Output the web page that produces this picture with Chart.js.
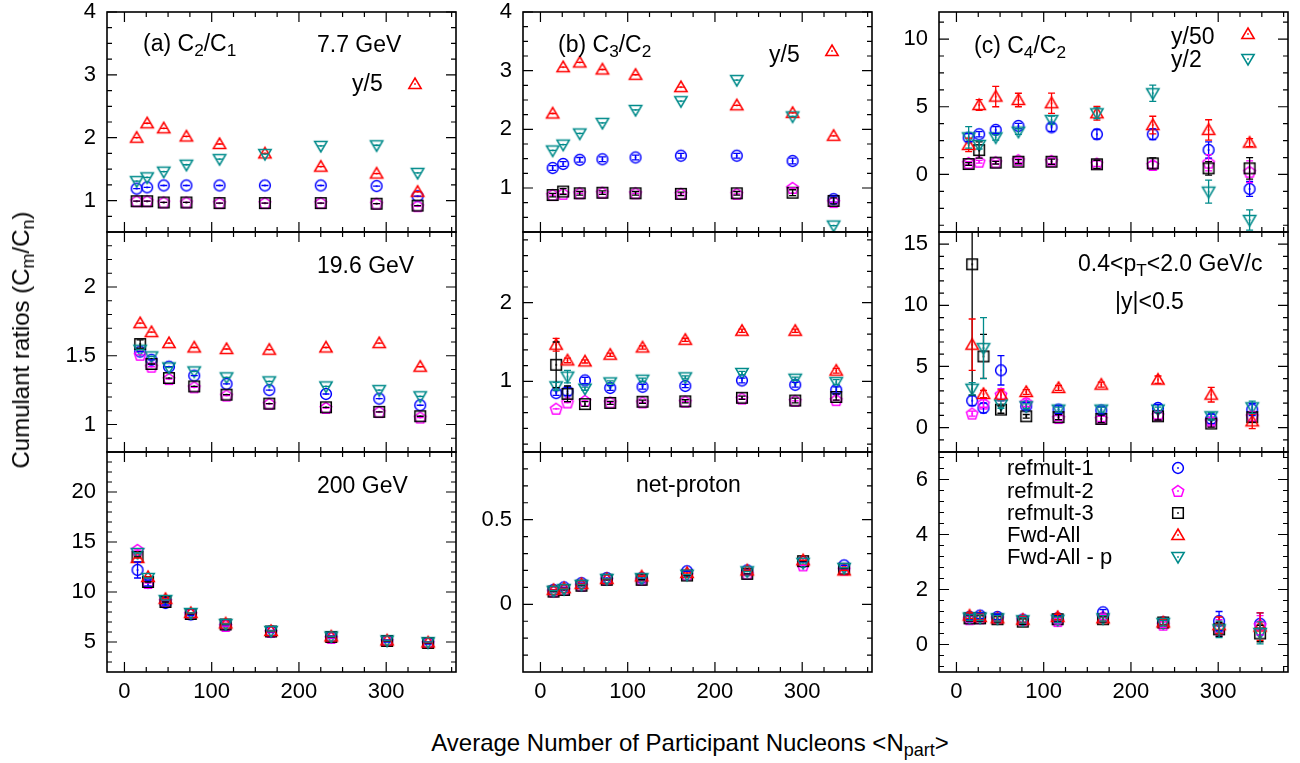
<!DOCTYPE html>
<html>
<head>
<meta charset="utf-8">
<script src="https://cdn.jsdelivr.net/npm/chart.js@4.4.1/dist/chart.umd.min.js"></script>
<style>
  body { margin: 0; background: #fff; width: 1300px; height: 763px; position: relative; overflow: hidden;
         font-family: "Liberation Sans", Arial, Helvetica, sans-serif; }
  canvas.panel, canvas.key { position: absolute; }
  .t { position: absolute; font-size: 23px; line-height: 23px; white-space: nowrap; color: #000; z-index: 2; }
  .t sub { font-size: 0.75em; position: relative; top: 0.3em; vertical-align: baseline; line-height: 0; }
  .lg { font-size: 22px; line-height: 22px; }
  .ttl { font-size: 24px; line-height: 24px; }
</style>
</head>
<body>

<div class="t ttl" style="left:21px;top:340px;transform:translate(-50%,-50%) rotate(-90deg)">Cumulant ratios (C<sub>m</sub>/C<sub>n</sub>)</div>
<div class="t ttl" style="left:690px;top:731px;transform:translateX(-50%)">Average Number of Participant Nucleons &lt;N<sub>part</sub>&gt;</div>

<div class="t" style="left:143px;top:32px">(a) C<sub>2</sub>/C<sub>1</sub></div>
<div class="t" style="left:317px;top:33px">7.7 GeV</div>
<div class="t" style="left:352px;top:72px">y/5</div>
<div class="t" style="left:558px;top:33px">(b) C<sub>3</sub>/C<sub>2</sub></div>
<div class="t" style="left:769px;top:43px">y/5</div>
<div class="t" style="left:974px;top:34px">(c) C<sub>4</sub>/C<sub>2</sub></div>
<div class="t" style="left:1171px;top:25px">y/50</div>
<div class="t" style="left:1171px;top:48px">y/2</div>
<div class="t" style="left:317px;top:254px">19.6 GeV</div>
<div class="t" style="left:1078px;top:252px">0.4&lt;p<sub>T</sub>&lt;2.0 GeV/c</div>
<div class="t" style="left:1115px;top:290px">|y|&lt;0.5</div>
<div class="t" style="left:317px;top:474px">200 GeV</div>
<div class="t" style="left:636px;top:473px">net-proton</div>

<div class="t lg" style="left:1007px;top:457px">refmult-1</div>
<div class="t lg" style="left:1007px;top:480px">refmult-2</div>
<div class="t lg" style="left:1007px;top:502px">refmult-3</div>
<div class="t lg" style="left:1007px;top:524px">Fwd-All</div>
<div class="t lg" style="left:1007px;top:546px">Fwd-All - p</div>

<script>
// Npart per energy
const NPART_7 = [14, 26, 45, 71, 109, 161, 225, 289, 336];
const NPART_19 = [18, 31, 51, 80, 117, 166, 231, 292, 339];
const NPART_200 = [15, 27, 47, 76, 116, 168, 237, 301, 348];

// x axis
const X_RANGE = [-20, 380];
const X_TICKS = [0, 100, 200, 300];
const X_MINOR = 25;

// (a) C2/C1 7.7 GeV (Fwd-All is y/5)
const C21_7_R1 = [1.19, 1.21, 1.24, 1.24, 1.24, 1.24, 1.24, 1.23, 1.07];
const C21_7_R2 = [0.99, 0.99, 0.97, 0.97, 0.96, 0.96, 0.96, 0.95, 0.91];
const C21_7_R3 = [0.99, 0.99, 0.97, 0.97, 0.96, 0.96, 0.96, 0.95, 0.92];
const C21_7_FA = [2.00, 2.23, 2.15, 2.02, 1.90, 1.75, 1.54, 1.43, 1.14];
const C21_7_FP = [1.31, 1.37, 1.46, 1.57, 1.66, 1.74, 1.87, 1.88, 1.44];

// (b) C3/C2 7.7 GeV (Fwd-All is y/5)
const C32_7_R1 = [1.34, 1.41, 1.48, 1.49, 1.52, 1.55, 1.55, 1.46, 0.81];
const C32_7_R2 = [0.88, 0.90, 0.91, 0.92, 0.91, 0.90, 0.90, 1.00, 0.76];
const C32_7_R3 = [0.88, 0.94, 0.91, 0.92, 0.91, 0.90, 0.91, 0.92, 0.78];
const C32_7_FA = [2.27, 3.06, 3.14, 3.02, 2.93, 2.72, 2.41, 2.28, 1.89];
const C32_7_FP = [1.64, 1.74, 1.93, 2.11, 2.33, 2.48, 2.84, 2.22, 0.36];
const C32_7_R1_E = [0.04, 0.04, 0.04, 0.04, 0.04, 0.04, 0.04, 0.05, 0.05];
const C32_7_R3_E = [0.03, 0.05, 0.03, 0.03, 0.03, 0.03, 0.03, 0.05, 0.05];

// (c) C4/C2 7.7 GeV (Fwd-All is y/50, Fwd-All - p is y/2)
const C42_7_R1 = [2.72, 2.97, 3.29, 3.58, 3.48, 2.97, 2.97, 1.81, -1.07];
const C42_7_R2 = [0.85, 0.94, 0.90, 1.05, 1.00, 0.80, 0.70, 0.87, 0.20];
const C42_7_R3 = [0.77, 1.80, 0.87, 0.94, 0.94, 0.75, 0.82, 0.45, 0.45];
const C42_7_FA = [2.18, 5.13, 5.75, 5.50, 5.26, 4.52, 3.65, 3.29, 2.35];
const C42_7_FP = [2.74, 2.18, 2.74, 3.16, 4.02, 4.52, 6.00, -1.27, -3.36];
const C42_7_R1_E = [0.3, 0.2, 0.25, 0.2, 0.3, 0.35, 0.4, 0.6, 0.55];
const C42_7_R2_E = [0.1, 0.1, 0.1, 0.15, 0.2, 0.2, 0.25, 0.6, 0.8];
const C42_7_R3_E = [0.1, 0.6, 0.1, 0.15, 0.2, 0.3, 0.4, 0.5, 0.8];
const C42_7_FA_E = [0.5, 0.4, 0.75, 0.5, 0.75, 0.5, 0.65, 0.75, 0.3];
const C42_7_FP_E = [0.8, 0.3, 0.2, 0.2, 0.3, 0.4, 0.6, 0.85, 0.75];

// C2/C1 19.6 GeV
const C21_19_R1 = [1.53, 1.47, 1.42, 1.355, 1.295, 1.25, 1.222, 1.188, 1.14];
const C21_19_R2 = [1.507, 1.42, 1.33, 1.27, 1.21, 1.15, 1.12, 1.09, 1.05];
const C21_19_R3 = [1.585, 1.44, 1.338, 1.277, 1.217, 1.152, 1.125, 1.092, 1.06];
const C21_19_FA = [1.737, 1.672, 1.592, 1.56, 1.549, 1.544, 1.56, 1.592, 1.42];
const C21_19_FP = [1.544, 1.495, 1.415, 1.386, 1.343, 1.314, 1.277, 1.25, 1.205];
const C21_19_R3_E = [0.03, 0, 0, 0, 0, 0, 0, 0, 0];

// C3/C2 19.6 GeV
const C32_19_R1 = [0.85, 0.87, 1.01, 0.915, 0.93, 0.94, 1.01, 0.955, 0.89];
const C32_19_R2 = [0.65, 0.73, 0.75, 0.73, 0.73, 0.74, 0.78, 0.75, 0.76];
const C32_19_R3 = [1.21, 0.84, 0.71, 0.725, 0.74, 0.745, 0.79, 0.755, 0.80];
const C32_19_FA = [1.465, 1.266, 1.253, 1.338, 1.43, 1.528, 1.643, 1.643, 1.135];
const C32_19_FP = [0.936, 1.06, 0.906, 0.986, 1.02, 1.05, 1.106, 1.033, 0.99];
const C32_19_R1_E = [0.03, 0.05, 0.04, 0.03, 0.03, 0.02, 0.03, 0.03, 0.04];
const C32_19_R3_E = [0.29, 0.10, 0.03, 0.02, 0.02, 0.02, 0.02, 0.03, 0.04];
const C32_19_FA_E = [0.08, 0.03, 0.02, 0.02, 0.02, 0.02, 0.02, 0.02, 0.03];
const C32_19_FP_E = [0.05, 0.08, 0.02, 0.02, 0.02, 0.02, 0.02, 0.02, 0.03];

// C4/C2 19.6 GeV
const C42_19_R1 = [2.2, 1.6, 4.68, 1.74, 1.47, 1.4, 1.6, 0.71, 1.47];
const C42_19_R2 = [1.14, 1.96, 2.69, 2.04, 0.78, 0.71, 1.0, 0.51, 0.92];
const C42_19_R3 = [13.36, 5.82, 1.47, 0.92, 0.85, 0.71, 0.92, 0.33, 0.85];
const C42_19_FA = [6.78, 2.75, 2.69, 2.91, 3.24, 3.51, 3.92, 2.69, 0.51];
const C42_19_FP = [3.18, 6.5, 1.88, 1.74, 1.47, 1.47, 1.47, 0.92, 1.66];
const C42_19_R1_E = [0.4, 0.4, 1.2, 0.3, 0.3, 0.3, 0.3, 0.4, 0.5];
const C42_19_R2_E = [0.2, 0.3, 0.5, 0.3, 0.2, 0.2, 0.3, 0.3, 0.4];
const C42_19_R3_E = [10.7, 1.8, 0.3, 0.15, 0.2, 0.3, 0.3, 0.3, 0.4];
const C42_19_FA_E = [2.1, 0.3, 0.4, 0.2, 0.2, 0.2, 0.3, 0.6, 0.6];
const C42_19_FP_E = [0.5, 2.5, 0.3, 0.2, 0.2, 0.2, 0.2, 0.3, 0.5];

// C2/C1 200 GeV
const C21_200_R1 = [12.2, 10.9, 8.9, 7.75, 6.7, 6.05, 5.5, 5.1, 4.9];
const C21_200_R2 = [14.2, 10.9, 9.1, 7.8, 6.6, 6.0, 5.4, 5.1, 4.9];
const C21_200_R3 = [13.5, 11.0, 9.0, 7.8, 6.75, 6.05, 5.5, 5.1, 4.9];
const C21_200_FA = [13.4, 11.5, 9.3, 7.9, 6.85, 6.1, 5.55, 5.15, 4.95];
const C21_200_FP = [13.9, 11.4, 9.2, 7.9, 6.8, 6.1, 5.55, 5.15, 4.98];
const C21_200_R1_E = [0.8, 0.3, 0.2, 0.1, 0.1, 0.1, 0.1, 0.1, 0.1];

// C3/C2 200 GeV (net-proton)
const C32_200_R1 = [0.085, 0.10, 0.125, 0.155, 0.155, 0.195, 0.20, 0.25, 0.23];
const C32_200_R2 = [0.075, 0.085, 0.11, 0.145, 0.145, 0.175, 0.18, 0.23, 0.205];
const C32_200_R3 = [0.075, 0.085, 0.11, 0.145, 0.145, 0.17, 0.18, 0.255, 0.21];
const C32_200_FA = [0.085, 0.095, 0.12, 0.15, 0.165, 0.185, 0.20, 0.26, 0.20];
const C32_200_FP = [0.08, 0.09, 0.115, 0.15, 0.155, 0.175, 0.195, 0.245, 0.215];

// C4/C2 200 GeV
const C42_200_R1 = [1.0, 1.05, 1.0, 0.9, 0.95, 1.17, 0.8, 0.85, 0.75];
const C42_200_R2 = [0.92, 0.95, 0.95, 0.9, 0.85, 1.0, 0.72, 0.6, 0.7];
const C42_200_R3 = [0.95, 0.95, 0.92, 0.83, 0.92, 0.92, 0.8, 0.55, 0.4];
const C42_200_FA = [1.05, 1.0, 0.95, 0.9, 1.0, 0.95, 0.8, 0.7, 0.65];
const C42_200_FP = [0.98, 0.98, 0.95, 0.88, 0.9, 0.95, 0.78, 0.55, 0.42];
const C42_200_R1_E = [0.1, 0.1, 0.1, 0.1, 0.1, 0.1, 0.1, 0.35, 0.4];
const C42_200_R2_E = [0.1, 0.1, 0.1, 0.1, 0.1, 0.1, 0.1, 0.3, 0.35];
const C42_200_R3_E = [0.1, 0.1, 0.1, 0.1, 0.1, 0.1, 0.1, 0.25, 0.3];
const C42_200_FA_E = [0.1, 0.1, 0.1, 0.1, 0.1, 0.1, 0.1, 0.3, 0.5];
const C42_200_FP_E = [0.1, 0.1, 0.1, 0.1, 0.1, 0.1, 0.1, 0.3, 0.4];

// y tick labels per panel
const YT_C21_7 = [1, 2, 3, 4];
const YT_C32_7 = [1, 2, 3, 4];
const YT_C42_7 = [0, 5, 10];
const YT_C21_19 = [1, 1.5, 2];
const YT_C32_19 = [1, 2];
const YT_C42_19 = [0, 5, 10, 15];
const YT_C21_200 = [5, 10, 15, 20];
const YT_C32_200 = [0, 0.5];
const YT_C42_200 = [0, 2, 4, 6];

const SERIES = [
  { label: 'refmult-1', shape: 'circle', color: '#0000ff' },
  { label: 'refmult-2', shape: 'pent', color: '#ff00ff' },
  { label: 'refmult-3', shape: 'square', color: '#000000' },
  { label: 'Fwd-All', shape: 'tri', color: '#ff0000' },
  { label: 'Fwd-All - p', shape: 'itri', color: '#008b8b' }
];

const PANELS = [
  { col: 0, row: 0, x: NPART_7, ys: [C21_7_R1, C21_7_R2, C21_7_R3, C21_7_FA, C21_7_FP], es: [], y: [0.5, 4], yt: YT_C21_7, ym: 0.25 },
  { col: 1, row: 0, x: NPART_7, ys: [C32_7_R1, C32_7_R2, C32_7_R3, C32_7_FA, C32_7_FP], es: [C32_7_R1_E, null, C32_7_R3_E], y: [0.25, 4], yt: YT_C32_7, ym: 0.25 },
  { col: 2, row: 0, x: NPART_7, ys: [C42_7_R1, C42_7_R2, C42_7_R3, C42_7_FA, C42_7_FP], es: [C42_7_R1_E, C42_7_R2_E, C42_7_R3_E, C42_7_FA_E, C42_7_FP_E], y: [-4.25, 12], yt: YT_C42_7, ym: 1.25 },
  { col: 0, row: 1, x: NPART_19, ys: [C21_19_R1, C21_19_R2, C21_19_R3, C21_19_FA, C21_19_FP], es: [null, null, C21_19_R3_E], y: [0.8, 2.4], yt: YT_C21_19, ym: 0.1 },
  { col: 1, row: 1, x: NPART_19, ys: [C32_19_R1, C32_19_R2, C32_19_R3, C32_19_FA, C32_19_FP], es: [C32_19_R1_E, null, C32_19_R3_E, C32_19_FA_E, C32_19_FP_E], y: [0.1, 2.9], yt: YT_C32_19, ym: 0.2 },
  { col: 2, row: 1, x: NPART_19, ys: [C42_19_R1, C42_19_R2, C42_19_R3, C42_19_FA, C42_19_FP], es: [C42_19_R1_E, C42_19_R2_E, C42_19_R3_E, C42_19_FA_E, C42_19_FP_E], y: [-2, 16], yt: YT_C42_19, ym: 1 },
  { col: 0, row: 2, x: NPART_200, ys: [C21_200_R1, C21_200_R2, C21_200_R3, C21_200_FA, C21_200_FP], es: [C21_200_R1_E], y: [2, 24], yt: YT_C21_200, ym: 1 },
  { col: 1, row: 2, x: NPART_200, ys: [C32_200_R1, C32_200_R2, C32_200_R3, C32_200_FA, C32_200_FP], es: [], y: [-0.4, 0.9], yt: YT_C32_200, ym: 0.1 },
  { col: 2, row: 2, x: NPART_200, ys: [C42_200_R1, C42_200_R2, C42_200_R3, C42_200_FA, C42_200_FP], es: [C42_200_R1_E, C42_200_R2_E, C42_200_R3_E, C42_200_FA_E, C42_200_FP_E], y: [-1, 7], yt: YT_C42_200, ym: 0.4 }
];

// layout
const COLS = [107, 523, 939];
const ROWS = [12, 232, 452];
const PW = 349, PH = 220;
const PAD_L = 70, PAD_T = 15, PAD_R = 15;
const FONT = '"Liberation Sans", Arial, Helvetica, sans-serif';

// gnuplot-like open symbols with a centre dot
function makeSymbol(shape, color) {
  const c = document.createElement('canvas');
  c.width = 18; c.height = 18;
  const g = c.getContext('2d');
  const cx = 9, cy = 9;
  g.strokeStyle = color; g.fillStyle = color; g.lineWidth = 1.5;
  g.beginPath();
  if (shape === 'circle') g.arc(cx, cy, 5.4, 0, Math.PI * 2);
  else if (shape === 'square') g.rect(cx - 5.3, cy - 5.3, 10.6, 10.6);
  else if (shape === 'tri') { g.moveTo(cx, cy - 6); g.lineTo(cx + 6.2, cy + 4.6); g.lineTo(cx - 6.2, cy + 4.6); g.closePath(); }
  else if (shape === 'itri') { g.moveTo(cx, cy + 6); g.lineTo(cx + 6.2, cy - 4.6); g.lineTo(cx - 6.2, cy - 4.6); g.closePath(); }
  else if (shape === 'pent') {
    for (let k = 0; k < 5; k++) {
      const a = -Math.PI / 2 + k * 2 * Math.PI / 5;
      const px = cx + 6 * Math.cos(a), py = cy + 0.5 + 6 * Math.sin(a);
      if (k) g.lineTo(px, py); else g.moveTo(px, py);
    }
    g.closePath();
  }
  g.stroke();
  g.fillRect(cx - 0.8, cy - 0.8, 1.6, 1.6);
  return c;
}

const SYMBOLS = SERIES.map(s => makeSymbol(s.shape, s.color));

function placeKey(k, x, y) {
  const c = makeSymbol(SERIES[k].shape, SERIES[k].color);
  c.className = 'key';
  c.style.left = (x - 9) + 'px';
  c.style.top = (y - 9) + 'px';
  c.style.zIndex = 3;
  document.body.appendChild(c);
}

// frame, inward ticks on all sides, error bars
const framePlugin = {
  id: 'frame',
  afterDatasetsDraw(chart) {
    const { ctx, chartArea: a, scales: { y } } = chart;
    ctx.save();
    ctx.beginPath();
    ctx.rect(a.left, a.top, a.right - a.left, a.bottom - a.top);
    ctx.clip();
    ctx.lineWidth = 1.3;
    chart.data.datasets.forEach((ds, i) => {
      const meta = chart.getDatasetMeta(i);
      ctx.strokeStyle = ds.borderColor;
      ctx.beginPath();
      ds.data.forEach((pt, j) => {
        const e = ds.errs[j] || 0;
        const px = meta.data[j].x;
        const y1 = y.getPixelForValue(pt.y - e), y2 = y.getPixelForValue(pt.y + e);
        ctx.moveTo(px, y1); ctx.lineTo(px, y2);
        ctx.moveTo(px - 3.5, y1); ctx.lineTo(px + 3.5, y1);
        ctx.moveTo(px - 3.5, y2); ctx.lineTo(px + 3.5, y2);
      });
      ctx.stroke();
    });
    ctx.restore();
  },
  afterDraw(chart, args, opts) {
    const { ctx, chartArea: a, scales: { x, y } } = chart;
    ctx.save();
    ctx.strokeStyle = '#000';
    ctx.lineWidth = 1.2;
    ctx.beginPath();
    const xt = (v, len) => {
      const px = x.getPixelForValue(v);
      ctx.moveTo(px, a.bottom); ctx.lineTo(px, a.bottom - len);
      ctx.moveTo(px, a.top); ctx.lineTo(px, a.top + len);
    };
    const yt = (v, len) => {
      const py = y.getPixelForValue(v);
      ctx.moveTo(a.left, py); ctx.lineTo(a.left + len, py);
      ctx.moveTo(a.right, py); ctx.lineTo(a.right - len, py);
    };
    X_TICKS.forEach(v => xt(v, 10));
    for (let v = Math.ceil(X_RANGE[0] / X_MINOR) * X_MINOR; v < X_RANGE[1]; v += X_MINOR) {
      if (!X_TICKS.some(t => Math.abs(t - v) < 1e-6)) xt(v, 5);
    }
    opts.major.forEach(v => yt(v, 10));
    const step = opts.minor, lo = y.min, hi = y.max;
    for (let k = Math.ceil(lo / step - 1e-6); k * step < hi - 1e-6; k++) {
      const v = k * step;
      if (v <= lo + 1e-6) continue;
      if (!opts.major.some(t => Math.abs(t - v) < 1e-6)) yt(v, 5);
    }
    ctx.stroke();
    ctx.lineWidth = 1.6;
    ctx.strokeRect(a.left, a.top, a.right - a.left, a.bottom - a.top);
    ctx.restore();
  }
};

function buildPanel(p) {
  const bottomRow = p.row === 2;
  const xh = bottomRow ? 45 : 15;
  const cv = document.createElement('canvas');
  cv.className = 'panel';
  cv.width = PAD_L + PW + PAD_R;
  cv.height = PAD_T + PH + xh;
  cv.style.left = (COLS[p.col] - PAD_L) + 'px';
  cv.style.top = (ROWS[p.row] - PAD_T) + 'px';
  document.body.appendChild(cv);

  const datasets = SERIES.map((s, k) => ({
    label: s.label,
    data: p.x.map((xv, i) => ({ x: xv, y: p.ys[k][i] })),
    errs: p.es[k] || [],
    pointStyle: SYMBOLS[k],
    borderColor: s.color,
    backgroundColor: s.color,
    pointRadius: 6,
    order: 5 - k
  }));

  new Chart(cv, {
    type: 'scatter',
    data: { datasets },
    options: {
      responsive: false,
      animation: false,
      events: [],
      layout: { padding: { left: 0, top: PAD_T, right: PAD_R, bottom: 0 }, autoPadding: false },
      plugins: {
        legend: { display: false },
        tooltip: { enabled: false },
        frame: { major: p.yt, minor: p.ym }
      },
      scales: {
        x: {
          type: 'linear', position: 'bottom', min: X_RANGE[0], max: X_RANGE[1],
          grid: { display: false, drawTicks: false }, border: { display: false },
          afterBuildTicks: ax => { ax.ticks = X_TICKS.map(v => ({ value: v })); },
          afterFit: ax => { ax.height = xh; ax.paddingLeft = 0; ax.paddingRight = 0; },
          ticks: { display: bottomRow, padding: 7, maxRotation: 0, autoSkip: false, color: '#000', font: { family: FONT, size: 22 } }
        },
        y: {
          type: 'linear', position: 'left', min: p.y[0], max: p.y[1],
          grid: { display: false, drawTicks: false }, border: { display: false },
          afterBuildTicks: ax => { ax.ticks = p.yt.map(v => ({ value: v })); },
          afterFit: ax => { ax.width = PAD_L; ax.paddingTop = 0; ax.paddingBottom = 0; },
          ticks: { padding: 11, autoSkip: false, color: '#000', font: { family: FONT, size: 22 }, callback: v => String(v) }
        }
      }
    },
    plugins: [framePlugin]
  });
}

PANELS.forEach(buildPanel);

// keys next to the scaling notes and the legend
placeKey(3, 415, 84);
placeKey(3, 832, 51);
placeKey(3, 1248, 34);
placeKey(4, 1248, 59);
placeKey(0, 1178, 468);
placeKey(1, 1178, 491);
placeKey(2, 1178, 513);
placeKey(3, 1178, 535);
placeKey(4, 1178, 557);
</script>
</body>
</html>
